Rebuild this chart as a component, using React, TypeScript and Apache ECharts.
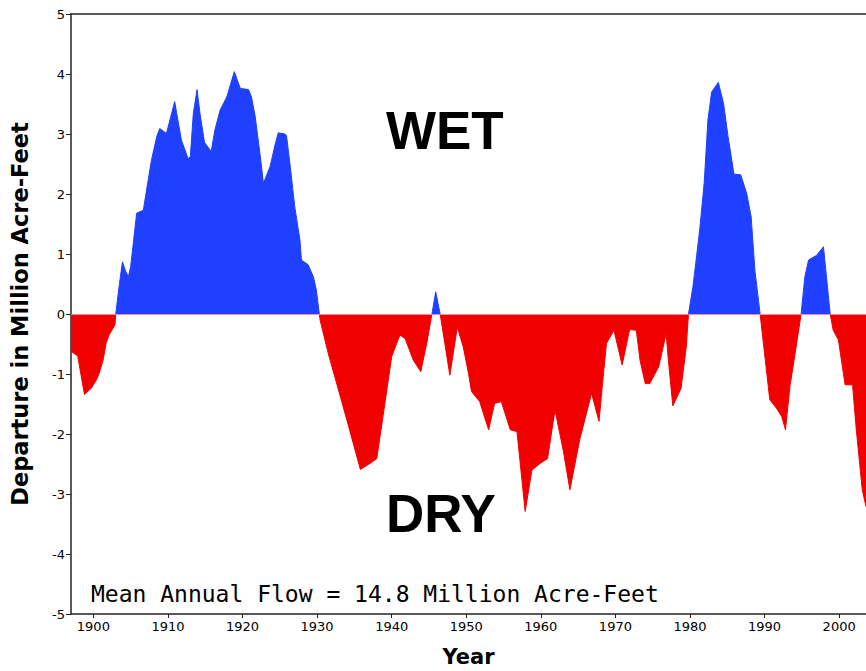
import React, { useEffect, useRef } from "react";
import * as echarts from "echarts";

const years: number[] = [
  1897.0, 1897.9, 1898.8, 1899.7, 1900.4, 1900.8, 1901.3, 1901.7, 1902.1, 1902.9,
  1903.0, 1903.5, 1903.9, 1904.3, 1904.7, 1905.0, 1905.5, 1905.8, 1906.7, 1907.2,
  1907.8, 1908.5, 1908.9, 1909.8, 1910.9, 1911.8, 1912.7, 1913.0, 1913.4, 1913.9,
  1914.3, 1914.9, 1915.8, 1916.3, 1917.0, 1917.9, 1918.9, 1919.7, 1920.8, 1921.2,
  1921.7, 1922.1, 1922.5, 1922.8, 1923.7, 1924.4, 1924.8, 1925.7, 1925.9, 1926.4,
  1927.0, 1927.7, 1927.9, 1928.8, 1929.5, 1929.9, 1930.2, 1930.4, 1931.5, 1934.0,
  1935.8, 1937.1, 1938.0, 1938.7, 1940.0, 1941.1, 1941.8, 1942.9, 1943.9, 1944.7,
  1945.4, 1945.9, 1946.5, 1947.8, 1948.8, 1949.6, 1950.3, 1950.7, 1951.8, 1953.0,
  1953.8, 1954.7, 1955.9, 1956.8, 1957.9, 1958.8, 1959.9, 1960.9, 1961.9, 1963.0,
  1963.9, 1965.2, 1966.8, 1967.8, 1968.4, 1968.8, 1969.8, 1970.9, 1971.9, 1972.8,
  1973.3, 1974.0, 1974.6, 1975.8, 1976.4, 1976.8, 1977.1, 1977.7, 1978.8, 1979.5,
  1979.8, 1980.4, 1981.3, 1981.9, 1982.4, 1982.9, 1983.8, 1984.5, 1985.1, 1985.9,
  1986.8, 1987.6, 1988.2, 1988.7, 1989.4, 1990.0, 1990.7, 1991.6, 1992.3, 1992.8,
  1993.4, 1994.3, 1994.9, 1995.4, 1995.9, 1997.0, 1997.9, 1998.3, 1998.8, 1999.2,
  1999.9, 2000.8, 2001.8, 2002.3, 2003.1, 2003.6,
];

const departures: number[] = [
  -0.62, -0.70, -1.34, -1.24, -1.10, -0.98, -0.77, -0.49, -0.35, -0.18,
  0.0, 0.51, 0.87, 0.72, 0.62, 0.79, 1.34, 1.68, 1.73, 2.12,
  2.57, 2.96, 3.09, 3.01, 3.54, 2.90, 2.59, 2.62, 3.34, 3.74,
  3.34, 2.86, 2.71, 3.07, 3.40, 3.62, 4.04, 3.76, 3.74, 3.62,
  3.29, 2.90, 2.51, 2.18, 2.46, 2.84, 3.02, 3.00, 2.97, 2.46,
  1.79, 1.23, 0.90, 0.82, 0.62, 0.40, 0.10, -0.10, -0.66, -1.77,
  -2.59, -2.49, -2.41, -1.82, -0.71, -0.35, -0.41, -0.77, -0.96, -0.49,
  0.0, 0.37, 0.0, -1.02, -0.22, -0.55, -0.99, -1.29, -1.46, -1.93,
  -1.49, -1.46, -1.93, -1.96, -3.29, -2.60, -2.49, -2.41, -1.60, -2.27,
  -2.93, -2.10, -1.32, -1.79, -0.99, -0.49, -0.27, -0.85, -0.26, -0.27,
  -0.77, -1.16, -1.16, -0.88, -0.55, -0.32, -0.77, -1.53, -1.24, -0.55,
  0.0, 0.46, 1.40, 2.18, 3.23, 3.70, 3.86, 3.51, 2.96, 2.33,
  2.32, 2.01, 1.62, 0.73, 0.0, -0.66, -1.43, -1.57, -1.71, -1.93,
  -1.21, -0.49, 0.0, 0.62, 0.90, 0.98, 1.12, 0.62, 0.0, -0.27,
  -0.43, -1.18, -1.18, -1.93, -2.93, -3.21,
];

const xMin = 1897;
const xMax = 2003.6;
const xLabelStep = 10;
const yMin = -5;
const yMax = 5;

const wetLabel = "WET";
const dryLabel = "DRY";
const noteLabel = "Mean Annual Flow = 14.8 Million Acre-Feet";
const yAxisTitle = "Departure in Million Acre-Feet";
const xAxisTitle = "Year";

const BLUE = "#2040ff";
const RED = "#f00000";
const GRID_TOP = 14;
const GRID_BOTTOM_PX = 614;

export default function App() {
  const ref = useRef<HTMLDivElement>(null);

  useEffect(() => {
    if (!ref.current) return;
    const chart = echarts.init(ref.current, undefined, { renderer: "svg" });
    const data = years.map((y, i) => [y, departures[i]]);
    const font = "DejaVu Sans";
    const zeroFrac = yMax / (yMax - yMin);
    const makeFill = () =>
      new echarts.graphic.LinearGradient(
        0,
        GRID_TOP,
        0,
        GRID_BOTTOM_PX,
        [
          { offset: 0, color: BLUE },
          { offset: zeroFrac, color: BLUE },
          { offset: zeroFrac, color: RED },
          { offset: 1, color: RED },
        ],
        true
      );
    chart.setOption({
      animation: false,
      backgroundColor: "#ffffff",
      grid: {
        left: 71,
        right: 0,
        top: GRID_TOP,
        bottom: 671 - GRID_BOTTOM_PX,
        containLabel: false,
        outerBoundsMode: "none",
      },
      xAxis: [
        {
          type: "value",
          min: xMin,
          max: xMax,
          minInterval: xLabelStep,
          maxInterval: xLabelStep,
          position: "bottom",
          name: xAxisTitle,
          nameLocation: "middle",
          nameGap: 32,
          nameTextStyle: { fontFamily: font, fontSize: 21, fontWeight: "bold", color: "#000" },
          splitLine: { show: false },
          axisLine: { show: true, onZero: false, lineStyle: { color: "#222", width: 1.5 } },
          axisTick: { show: true, length: 4, lineStyle: { color: "#222" } },
          axisLabel: {
            showMinLabel: false,
            showMaxLabel: false,
            formatter: (v: number) => (Math.abs(v % xLabelStep) < 1e-6 ? String(v) : ""),
            fontFamily: font,
            fontSize: 13,
            color: "#000",
            margin: 6,
          },
        },
        {
          type: "value",
          min: xMin,
          max: xMax,
          position: "top",
          splitLine: { show: false },
          axisLine: { show: true, onZero: false, lineStyle: { color: "#222", width: 1.5 } },
          axisTick: { show: false },
          axisLabel: { show: false },
        },
      ],
      yAxis: {
        type: "value",
        min: yMin,
        max: yMax,
        interval: 1,
        name: yAxisTitle,
        nameLocation: "middle",
        nameGap: 40,
        nameTextStyle: { fontFamily: font, fontSize: 22.5, fontWeight: "bold", color: "#000" },
        splitLine: { show: false },
        axisLine: { show: true, onZero: false, lineStyle: { color: "#222", width: 1.5 } },
        axisTick: { show: true, length: 5, lineStyle: { color: "#222" } },
        axisLabel: { fontFamily: font, fontSize: 13, color: "#000", margin: 6 },
      },
      series: [
        {
          type: "line",
          data,
          xAxisIndex: 0,
          showSymbol: false,
          symbol: "none",
          lineStyle: { width: 1, color: makeFill() },
          itemStyle: { color: BLUE },
          areaStyle: { opacity: 1, color: makeFill() },
          markLine: {
            silent: true,
            symbol: ["none", "none"],
            label: { show: false },
            lineStyle: { color: "#ff8c8c", width: 1, type: "solid" },
            data: [{ yAxis: 0 }],
          },
          z: 2,
        },
      ],
      graphic: [
        {
          type: "text",
          left: 386,
          top: 104,
          style: { text: wetLabel, fontFamily: "Liberation Sans", fontWeight: "bold", fontSize: 53, fill: "#000" },
        },
        {
          type: "text",
          left: 386,
          top: 487,
          style: { text: dryLabel, fontFamily: "Liberation Sans", fontWeight: "bold", fontSize: 53, fill: "#000" },
        },
        {
          type: "text",
          left: 91,
          top: 582,
          style: { text: noteLabel, fontFamily: "DejaVu Sans Mono", fontSize: 23, fill: "#000" },
        },
      ],
    });
    return () => chart.dispose();
  }, []);

  return (
    <div
      ref={ref}
      style={{ position: "fixed", left: 0, top: 0, width: 866, height: 671, background: "#fff" }}
    />
  );
}
